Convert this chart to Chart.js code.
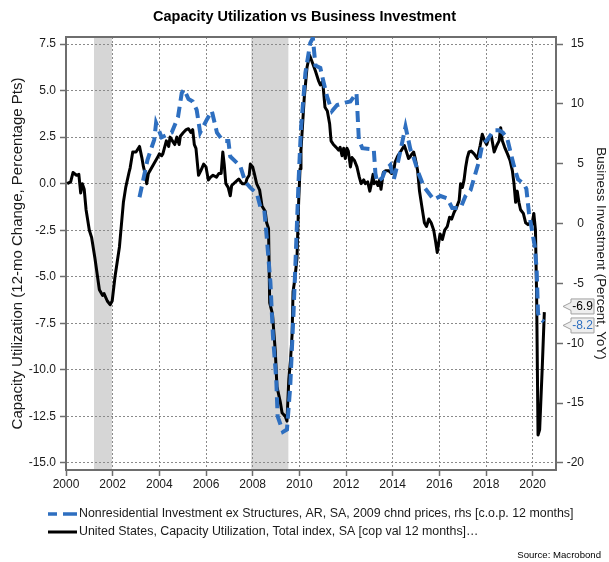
<!DOCTYPE html>
<html>
<head>
<meta charset="utf-8">
<title>Capacity Utilization vs Business Investment</title>
<script src="https://cdn.jsdelivr.net/npm/chart.js@4.4.1/dist/chart.umd.min.js"></script>
<style>
    html, body { margin: 0; padding: 0; background: #ffffff; }
    #graphCanvas { display: block; }
</style>
</head>
<body>
<canvas id="graphCanvas" width="609" height="562"></canvas>
<script>
// Capacity utilization, 12-mo change in pct pts (lhs)
var cuDates = [
    2000.05, 2000.2, 2000.3, 2000.45, 2000.55, 2000.63, 2000.7, 2000.78, 2000.86, 2001.0,
    2001.1, 2001.24, 2001.43, 2001.57, 2001.63, 2001.77, 2001.89, 2001.98, 2002.1, 2002.29,
    2002.46, 2002.56, 2002.7, 2002.75, 2002.86, 2003.0, 2003.15, 2003.25, 2003.32, 2003.4,
    2003.46, 2003.53, 2003.6, 2003.78, 2003.92, 2004.0, 2004.1, 2004.15, 2004.3, 2004.4,
    2004.46, 2004.56, 2004.66, 2004.75, 2004.85, 2004.9, 2005.03, 2005.15, 2005.25, 2005.35,
    2005.43, 2005.5, 2005.57, 2005.68, 2005.78, 2005.9, 2006.0, 2006.1, 2006.2, 2006.3,
    2006.45, 2006.55, 2006.65, 2006.72, 2006.78, 2006.85, 2006.95, 2007.04, 2007.1, 2007.27,
    2007.4, 2007.55, 2007.7, 2007.75, 2007.85, 2007.9, 2008.0, 2008.07, 2008.17, 2008.3,
    2008.4, 2008.54, 2008.6, 2008.68, 2008.73, 2008.85, 2008.97, 2009.04, 2009.18, 2009.26,
    2009.4, 2009.47, 2009.55, 2009.62, 2009.69, 2009.73, 2009.8, 2009.9, 2009.97, 2010.03,
    2010.07, 2010.21, 2010.33, 2010.44, 2010.53, 2010.69, 2010.83, 2010.9, 2011.0, 2011.1,
    2011.2, 2011.3, 2011.36, 2011.46, 2011.58, 2011.68, 2011.75, 2011.83, 2011.9, 2011.97,
    2012.04, 2012.1, 2012.19, 2012.26, 2012.36, 2012.47, 2012.57, 2012.65, 2012.76, 2012.83,
    2012.93, 2013.02, 2013.08, 2013.16, 2013.2, 2013.3, 2013.37, 2013.44, 2013.5, 2013.6,
    2013.7, 2013.83, 2013.95, 2014.05, 2014.1, 2014.22, 2014.33, 2014.5, 2014.58, 2014.68,
    2014.75, 2014.83, 2014.9, 2014.96, 2015.07, 2015.15, 2015.26, 2015.36, 2015.45, 2015.55,
    2015.65, 2015.76, 2015.84, 2015.91, 2016.03, 2016.13, 2016.23, 2016.34, 2016.44, 2016.53,
    2016.63, 2016.73, 2016.85, 2016.91, 2016.99, 2017.06, 2017.13, 2017.2, 2017.27, 2017.37,
    2017.49, 2017.63, 2017.75, 2017.84, 2017.94, 2018.03, 2018.13, 2018.23, 2018.35, 2018.46,
    2018.56, 2018.63, 2018.7, 2018.8, 2018.92, 2019.03, 2019.13, 2019.2, 2019.27, 2019.34,
    2019.41, 2019.48, 2019.6, 2019.7, 2019.8, 2019.9, 2019.97, 2020.05, 2020.12, 2020.17,
    2020.23, 2020.3, 2020.41, 2020.5
];
var cuValues = [
    0.0, 0.1, 0.6, 0.45, 0.5, -0.5, 0.0, -0.3, -1.4, -2.5,
    -2.9, -4.0, -5.7, -6.0, -5.9, -6.3, -6.5, -6.3, -5.0, -3.4,
    -1.0, -0.2, 0.6, 0.85, 1.7, 1.7, 2.0, 1.4, 0.9, 0.5,
    0.0, 0.55, 0.7, 1.1, 1.4, 1.6, 1.5, 1.6, 2.3, 2.0,
    2.5, 2.3, 2.1, 2.5, 2.1, 2.55, 2.75, 2.9, 2.95, 2.75,
    2.9, 2.1, 1.9, 0.45, 0.7, 1.05, 0.9, 0.2, 0.35, 0.45,
    0.35, 0.55, 0.55, 1.7, 1.05, 0.0, -0.2, -0.65, -0.1, 0.1,
    0.25, 0.0, 0.0, 0.25, 0.45, 1.05, 0.9, 0.55, 0.0, -0.35,
    -1.2, -1.5, -2.1, -2.4, -6.4, -7.0, -9.0, -10.9, -11.7, -12.3,
    -12.5, -12.75, -10.5, -9.5, -8.1, -5.8, -5.2, -4.0, -1.0, 0.8,
    1.8, 4.6, 6.25, 6.9, 6.6, 6.05, 5.5, 5.3, 5.5, 4.1,
    3.9, 3.2, 2.3, 2.1, 1.95, 1.8, 1.95, 1.5, 1.9, 1.35,
    1.9, 1.75, 0.9, 1.4, 1.25, 0.9, 0.35, 0.0, 0.2, 0.0,
    0.1, -0.4, -0.05, 0.5, 0.0, 0.1, -0.1, 0.2, -0.3, 0.6,
    0.7, 0.7, 0.55, 0.7, 1.15, 1.5, 1.7, 2.05, 1.75, 1.35,
    1.45, 1.6, 1.7, 1.4, 0.7, -0.4, -1.3, -2.1, -2.3, -1.9,
    -2.1, -2.5, -3.1, -3.7, -2.7, -3.0, -2.5, -2.3, -1.8, -1.9,
    -1.55, -1.3, -0.9, 0.0, -0.2, 0.2, 0.9, 1.4, 1.7, 1.75,
    1.6, 1.35, 2.05, 2.65, 2.3, 2.1, 2.5, 2.55, 1.7, 2.05,
    2.3, 3.0, 2.3, 1.95, 1.6, 1.25, 0.7, 0.0, -1.0, -0.4,
    -1.0, -1.4, -1.6, -2.1, -2.2, -2.1, -2.2, -1.6, -2.5, -6.0,
    -13.5, -13.2, -9.9, -6.9
];

// Nonresidential investment ex structures, yoy % (rhs)
var invDates = [
    2003.15, 2003.49, 2003.78, 2003.86, 2004.1, 2004.53, 2004.8, 2004.96, 2005.06, 2005.25,
    2005.43, 2005.6, 2005.75, 2006.04, 2006.25, 2006.47, 2006.73, 2006.96, 2007.04, 2007.47,
    2007.68, 2007.9, 2008.18, 2008.33, 2008.5, 2008.61, 2008.76, 2008.87, 2009.01, 2009.07,
    2009.3, 2009.47, 2009.61, 2009.75, 2009.83, 2009.97, 2010.07, 2010.26, 2010.47, 2010.58,
    2010.69, 2010.9, 2011.04, 2011.19, 2011.4, 2011.62, 2011.97, 2012.19, 2012.45, 2012.5,
    2012.55, 2012.7, 2013.19, 2013.26, 2013.33, 2013.55, 2013.69, 2013.9, 2014.05, 2014.19,
    2014.4, 2014.55, 2014.76, 2014.9, 2015.11, 2015.33, 2015.76, 2016.05, 2016.34, 2016.55,
    2016.91, 2017.12, 2017.34, 2017.55, 2017.7, 2017.84, 2018.06, 2018.34, 2018.55, 2018.72,
    2018.91, 2019.06, 2019.2, 2019.37, 2019.63, 2019.73, 2019.84, 2019.94, 2020.09, 2020.17,
    2020.23, 2020.3, 2020.48
];
var invValues = [
    2.2, 5.3, 7.0, 8.4, 7.2, 7.6, 8.9, 10.9, 11.2, 10.4,
    10.2, 9.5, 7.6, 8.7, 9.4, 7.6, 6.9, 6.9, 5.6, 4.8,
    3.5, 3.0, 2.5, 1.4, 1.1, -1.3, -4.9, -9.4, -13.0, -16.1,
    -17.4, -17.2, -13.6, -7.5, -3.5, 3.7, 7.9, 12.6, 15.1, 15.5,
    13.2, 13.0, 11.8, 10.6, 9.4, 9.9, 10.1, 10.2, 10.9, 9.0,
    7.0, 6.3, 6.2, 4.2, 3.5, 3.8, 4.5, 4.9, 3.7, 4.8,
    6.7, 8.1, 6.2, 5.5, 4.2, 3.1, 2.0, 2.3, 2.1, 1.3,
    1.3, 2.3, 2.8, 4.2, 5.2, 6.6, 7.0, 7.8, 7.8, 7.6,
    7.1, 5.9, 4.8, 3.7, 3.3, 2.9, 0.9, -0.2, -1.9, -3.8,
    -7.5, -7.9, -8.2
];

var xTicks = [2000, 2002, 2004, 2006, 2008, 2010, 2012, 2014, 2016, 2018, 2020];
var leftTicks = [7.5, 5, 2.5, 0, -2.5, -5, -7.5, -10, -12.5, -15];
var rightTicks = [15, 10, 5, 0, -5, -10, -15, -20];

var recessionStart = [2001.2, 2007.94];
var recessionEnd = [2001.97, 2009.53];

var invLabel = 'Nonresidential Investment ex Structures, AR, SA, 2009 chnd prices, rhs [c.o.p. 12 months]';
var cuLabel = 'United States, Capacity Utilization, Total index, SA [cop val 12 months]\u2026';

var blue = '#2e6fc0';
var frameColor = '#6e6e6e';
var gridColor = '#8a8a8a';
var textColor = '#1a1a1a';
var fontName = '"Liberation Sans", Arial, sans-serif';

Chart.defaults.font.family = fontName;

function toPoints(xs, ys) {
    var pts = [];
    for (var i = 0; i < xs.length; i++) {
        pts.push({ x: xs[i], y: ys[i] });
    }
    return pts;
}

function drawCallout(ctx, x, y, text, color) {
    var arrow = 8, w = 23, h = 15;
    ctx.save();
    ctx.beginPath();
    ctx.moveTo(x, y);
    ctx.lineTo(x + arrow, y - 4);
    ctx.lineTo(x + arrow, y - h / 2);
    ctx.lineTo(x + arrow + w, y - h / 2);
    ctx.lineTo(x + arrow + w, y + h / 2);
    ctx.lineTo(x + arrow, y + h / 2);
    ctx.lineTo(x + arrow, y + 4);
    ctx.closePath();
    ctx.fillStyle = '#eeeeee';
    ctx.fill();
    ctx.strokeStyle = '#a0a0a0';
    ctx.lineWidth = 1;
    ctx.stroke();
    ctx.fillStyle = color;
    ctx.font = '12px ' + fontName;
    ctx.textAlign = 'center';
    ctx.textBaseline = 'middle';
    ctx.fillText(text, x + arrow + w / 2, y + 0.5);
    ctx.restore();
}

var overlay = {
    id: 'overlay',
    beforeDraw: function (chart) {
        // recession bands, under the grid
        var ctx = chart.ctx, area = chart.chartArea, xs = chart.scales.x;
        ctx.save();
        ctx.fillStyle = '#d6d6d6';
        for (var i = 0; i < recessionStart.length; i++) {
            var x1 = xs.getPixelForValue(recessionStart[i]);
            var x2 = xs.getPixelForValue(recessionEnd[i]);
            ctx.fillRect(x1, area.top, x2 - x1, area.bottom - area.top);
        }
        ctx.restore();
    },
    beforeDatasetsDraw: function (chart) {
        var ctx = chart.ctx, area = chart.chartArea;
        ctx.save();
        ctx.strokeStyle = frameColor;
        ctx.lineWidth = 2;
        ctx.beginPath();
        ctx.moveTo(area.left - 1, area.top);
        ctx.lineTo(area.right + 1, area.top);
        ctx.stroke();
        ctx.restore();
    },
    afterDraw: function (chart) {
        var ctx = chart.ctx, area = chart.chartArea, y1 = chart.scales.y1;

        // rhs tick labels, right aligned
        ctx.save();
        ctx.font = '12px ' + fontName;
        ctx.fillStyle = textColor;
        ctx.textAlign = 'right';
        ctx.textBaseline = 'middle';
        rightTicks.forEach(function (v) {
            ctx.fillText(String(v), area.right + 28, y1.getPixelForValue(v));
        });
        ctx.restore();

        // last-value callouts
        var yL = chart.scales.y.getPixelForValue(cuValues[cuValues.length - 1]);
        var yR = y1.getPixelForValue(invValues[invValues.length - 1]);
        var mid = (yL + yR) / 2;
        var cuY = yL, invY = yR;
        if (Math.abs(yR - yL) < 19) {
            cuY = yL <= yR ? mid - 10.5 : mid + 8.5;
            invY = yL <= yR ? mid + 8.5 : mid - 10.5;
        }
        drawCallout(ctx, area.right + 7, cuY, cuValues[cuValues.length - 1].toFixed(1), '#000000');
        drawCallout(ctx, area.right + 7, invY, invValues[invValues.length - 1].toFixed(1), blue);

        // legend
        ctx.save();
        ctx.font = '12.4px ' + fontName;
        ctx.textAlign = 'left';
        ctx.textBaseline = 'middle';
        ctx.lineCap = 'butt';

        ctx.strokeStyle = blue;
        ctx.lineWidth = 3.5;
        ctx.setLineDash([9, 6, 15]);
        ctx.beginPath();
        ctx.moveTo(48, 514);
        ctx.lineTo(77, 514);
        ctx.stroke();
        ctx.setLineDash([]);
        ctx.fillStyle = textColor;
        ctx.fillText(invLabel, 79, 514);

        ctx.strokeStyle = '#000000';
        ctx.lineWidth = 3;
        ctx.beginPath();
        ctx.moveTo(48, 532);
        ctx.lineTo(77, 532);
        ctx.stroke();
        ctx.fillText(cuLabel, 79, 532);

        // source
        ctx.font = '9.6px ' + fontName;
        ctx.textAlign = 'right';
        ctx.fillStyle = '#000000';
        ctx.fillText('Source: Macrobond', 601, 555);
        ctx.restore();
    }
};

var chartdata = {
    datasets: [{
        label: invLabel,
        data: toPoints(invDates, invValues),
        yAxisID: 'y1',
        borderColor: blue,
        borderWidth: 4,
        borderDash: [11, 6],
        pointRadius: 0,
        tension: 0,
        fill: false
    }, {
        label: cuLabel,
        data: toPoints(cuDates, cuValues),
        yAxisID: 'y',
        borderColor: '#000000',
        borderWidth: 3,
        borderJoinStyle: 'round',
        pointRadius: 0,
        tension: 0,
        fill: false
    }]
};

var graphTarget = document.getElementById('graphCanvas');

var lineGraph = new Chart(graphTarget, {
    type: 'line',
    data: chartdata,
    plugins: [overlay],
    options: {
        responsive: false,
        animation: false,
        layout: {
            padding: { top: 0, left: 0, right: 0, bottom: 62 }
        },
        plugins: {
            legend: { display: false },
            tooltip: { enabled: false },
            title: {
                display: true,
                text: 'Capacity Utilization vs Business Investment',
                color: '#000000',
                font: { size: 14.5, weight: 'bold' },
                padding: { top: 8, bottom: 11.6 }
            }
        },
        scales: {
            x: {
                type: 'linear',
                min: 2000,
                max: 2021,
                afterFit: function (s) { s.height = 30; },
                afterBuildTicks: function (s) {
                    s.ticks = xTicks.map(function (v) { return { value: v }; });
                },
                ticks: {
                    autoSkip: false,
                    maxRotation: 0,
                    padding: 1,
                    color: textColor,
                    font: { size: 12 },
                    callback: function (v) { return String(v); }
                },
                grid: {
                    color: gridColor,
                    lineWidth: 1,
                    tickLength: 6,
                    tickColor: frameColor,
                    tickWidth: 1.5
                },
                border: { display: true, color: frameColor, width: 2, dash: [2, 2] }
            },
            y: {
                position: 'left',
                min: -15.376,
                max: 7.876,
                afterFit: function (s) { s.width = 66; },
                afterBuildTicks: function (s) {
                    s.ticks = leftTicks.map(function (v) { return { value: v }; });
                },
                ticks: {
                    padding: 4,
                    color: textColor,
                    font: { size: 12 },
                    callback: function (v) { return v.toFixed(1); }
                },
                title: {
                    display: true,
                    text: 'Capacity Utilization (12-mo Change, Percentage Pts)',
                    color: textColor,
                    font: { size: 15 },
                    padding: { top: 9, bottom: 0 }
                },
                grid: {
                    color: gridColor,
                    lineWidth: 1,
                    tickLength: 6,
                    tickColor: frameColor,
                    tickWidth: 1.5
                },
                border: { display: true, color: frameColor, width: 2, dash: [2, 2] }
            },
            y1: {
                position: 'right',
                min: -20.585,
                max: 15.585,
                afterFit: function (s) { s.width = 53; },
                afterBuildTicks: function (s) {
                    s.ticks = rightTicks.map(function (v) { return { value: v }; });
                },
                ticks: {
                    display: false
                },
                title: {
                    display: true,
                    text: 'Business Investment (Percent, YoY)',
                    color: textColor,
                    font: { size: 13.3 },
                    padding: { top: 0, bottom: 0 }
                },
                grid: {
                    drawOnChartArea: false,
                    tickLength: 7,
                    tickColor: frameColor,
                    tickWidth: 1.5
                },
                border: { display: true, color: frameColor, width: 2 }
            }
        }
    }
});
</script>
</body>
</html>
